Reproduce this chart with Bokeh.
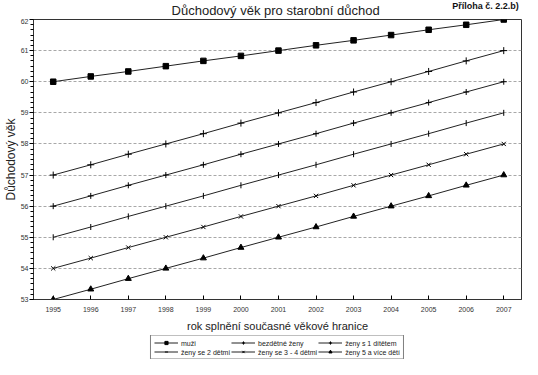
from bokeh.plotting import figure
from bokeh.models import Range1d, FixedTicker, Legend, LegendItem, Label
from bokeh.layouts import column
from bokeh.embed import file_html
from bokeh.resources import INLINE
import math

years = [1995, 1996, 1997, 1998, 1999, 2000, 2001, 2002, 2003, 2004, 2005, 2006, 2007]
muzi = [60.00, 60.17, 60.33, 60.50, 60.67, 60.83, 61.00, 61.17, 61.33, 61.50, 61.67, 61.83, 62.00]
bezdetne = [57.00, 57.33, 57.67, 58.00, 58.33, 58.67, 59.00, 59.33, 59.67, 60.00, 60.33, 60.67, 61.00]
deti1 = [56.00, 56.33, 56.67, 57.00, 57.33, 57.67, 58.00, 58.33, 58.67, 59.00, 59.33, 59.67, 60.00]
deti2 = [55.00, 55.33, 55.67, 56.00, 56.33, 56.67, 57.00, 57.33, 57.67, 58.00, 58.33, 58.67, 59.00]
deti34 = [54.00, 54.33, 54.67, 55.00, 55.33, 55.67, 56.00, 56.33, 56.67, 57.00, 57.33, 57.67, 58.00]
deti5 = [53.00, 53.33, 53.67, 54.00, 54.33, 54.67, 55.00, 55.33, 55.67, 56.00, 56.33, 56.67, 57.00]
series_names = ["muži", "bezdětné ženy", "ženy s 1 dítětem",
                "ženy se 2 dětmi", "ženy se 3 - 4 dětmi", "ženy 5 a více dětí"]
y_ticks = [53, 54, 55, 56, 57, 58, 59, 60, 61, 62]

FONT = "Liberation Sans"
LC = "#222222"
W = 522


def bare(h):
    f = figure(width=W, height=h, output_backend="svg", toolbar_location=None,
               x_range=Range1d(0, W), y_range=Range1d(h, 0),
               x_axis_type=None, y_axis_type=None,
               min_border=0, min_border_left=0, min_border_right=0,
               min_border_top=0, min_border_bottom=0)
    f.outline_line_color = None
    f.xgrid.grid_line_color = None
    f.ygrid.grid_line_color = None
    f.background_fill_color = "white"
    f.border_fill_color = "white"
    return f


# --- title strip ---
top = bare(18)
top.add_layout(Label(x=259, y=10, text="Důchodový věk pro starobní důchod",
                     text_font=FONT, text_font_size="13px", text_align="center",
                     text_baseline="middle", text_color="#222222"))
top.add_layout(Label(x=519, y=5, text="Příloha č. 2.2.b)",
                     text_font=FONT, text_font_size="9px", text_font_style="bold",
                     text_align="right", text_baseline="middle", text_color="#111111"))

# --- main chart ---
p = figure(width=W, height=317, output_backend="svg", toolbar_location=None,
           x_range=Range1d(1994.475, 2007.473), y_range=Range1d(53, 62),
           min_border_left=26, min_border_right=1, min_border_top=1, min_border_bottom=36)
p.outline_line_color = "#333333"
p.outline_line_width = 1
p.background_fill_color = "white"
p.border_fill_color = "white"

p.xgrid.grid_line_color = None
p.ygrid.ticker = FixedTicker(ticks=y_ticks)
p.ygrid.grid_line_color = "#a8a8a8"
p.ygrid.grid_line_dash = "3 2"
p.ygrid.grid_line_width = 1

p.xaxis.ticker = FixedTicker(ticks=years)
p.xaxis.major_tick_in = 4
p.xaxis.major_tick_out = 0
p.xaxis.minor_tick_line_color = None
p.xaxis.major_label_text_font = FONT
p.xaxis.major_label_text_font_size = "7px"
p.xaxis.major_label_text_color = "#333333"
p.xaxis.major_label_standoff = 7
p.xaxis.axis_line_color = "#333333"
p.xaxis.axis_label = "rok splnění současné věkové hranice"
p.xaxis.axis_label_text_font = FONT
p.xaxis.axis_label_text_font_size = "11px"
p.xaxis.axis_label_text_font_style = "normal"
p.xaxis.axis_label_text_color = "#222222"
p.xaxis.axis_label_standoff = 5

p.yaxis.ticker = FixedTicker(ticks=y_ticks,
                             minor_ticks=[53 + i / 6 for i in range(0, 55)])
p.yaxis.major_tick_in = 0
p.yaxis.major_tick_out = 4
p.yaxis.minor_tick_in = 0
p.yaxis.minor_tick_out = 3
p.yaxis.major_label_text_font = FONT
p.yaxis.major_label_text_font_size = "7px"
p.yaxis.major_label_text_color = "#333333"
p.yaxis.major_label_standoff = 1
p.yaxis.axis_line_color = "#333333"
p.yaxis.axis_label = "Důchodový věk"
p.yaxis.axis_label_text_font = FONT
p.yaxis.axis_label_text_font_size = "12px"
p.yaxis.axis_label_text_font_style = "normal"
p.yaxis.axis_label_text_color = "#222222"
p.yaxis.axis_label_standoff = 0

styles = [("square", 5.5, 9, 0), ("cross", 7, 8, 0), ("cross", 6, 7, 0),
          ("dash", 6, 7, math.pi / 2), ("x", 6, 7, 0), ("triangle", 6, 10, 0)]
values = [muzi, bezdetne, deti1, deti2, deti34, deti5]

for vals, (marker, size, lsize, ang) in zip(values, styles):
    p.line(years, vals, line_color=LC, line_width=1)
    p.scatter(years, vals, marker=marker, size=size, angle=ang,
              line_color="black", fill_color="black", line_width=1)

# --- legend strip (series drawn outside its visible ranges, only the legend shows) ---
lg = bare(24)
items = []
for name, vals, (marker, size, lsize, ang) in zip(series_names, values, styles):
    r1 = lg.line(years, vals, line_color=LC, line_width=1)
    r2 = lg.scatter(years, vals, marker=marker, size=lsize, angle=ang,
                    line_color="black", fill_color="black", line_width=1)
    items.append(LegendItem(label=name, renderers=[r1, r2]))

legend = Legend(items=items, orientation="horizontal", ncols=3,
                location="center", label_text_font=FONT, label_text_font_size="7px",
                label_text_color="#222222",
                glyph_width=24, glyph_height=8, label_standoff=3, spacing=1,
                padding=3, margin=0, border_line_color="black", border_line_width=1,
                background_fill_color="white", background_fill_alpha=1,
                label_height=8)
lg.add_layout(legend, "center")

layout = column(top, p, lg, spacing=0)
open("out.html", "w").write(file_html(layout, INLINE))
